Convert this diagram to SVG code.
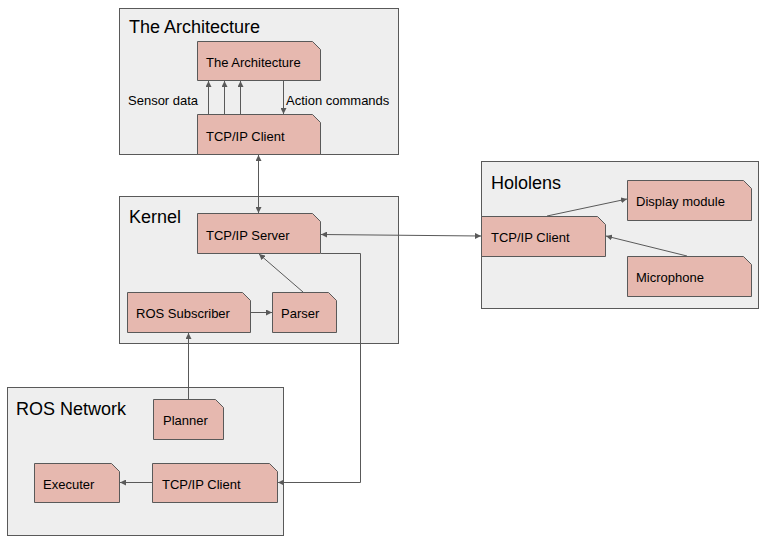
<svg xmlns="http://www.w3.org/2000/svg" width="765" height="540" viewBox="0 0 765 540">
<style>
.cont{fill:#eeeeee;stroke:#595959;stroke-width:1}
.node{fill:#e6b8af;stroke:#595959;stroke-width:1}
.title{font-family:"Liberation Sans",Arial,sans-serif;font-size:18px;fill:#000}
.lbl{font-family:"Liberation Sans",Arial,sans-serif;font-size:13px;fill:#000}
.edge{fill:none;stroke:#595959;stroke-width:1}
</style>
<defs>
<marker id="ah" viewBox="0 0 10 10" refX="10" refY="5" markerWidth="6" markerHeight="6" orient="auto-start-reverse" markerUnits="userSpaceOnUse">
<path d="M0,0 L10,5 L0,10 Z" fill="#595959"/>
</marker>
</defs>
<rect width="765" height="540" fill="#ffffff"/>

<g id="arch-container">
<rect class="cont" x="119.5" y="8.5" width="279" height="146"/>
<text class="title" x="129" y="33">The Architecture</text>
</g>
<g id="kernel-container">
<rect class="cont" x="119.5" y="196.5" width="279" height="147"/>
<text class="title" x="129" y="223">Kernel</text>
</g>
<g id="hololens-container">
<rect class="cont" x="481.5" y="161.5" width="277" height="147"/>
<text class="title" x="491" y="189">Hololens</text>
</g>
<g id="ros-container">
<rect class="cont" x="7.5" y="387.5" width="276" height="148"/>
<text class="title" x="16" y="415">ROS Network</text>
</g>

<g id="arch-node">
<path class="node" d="M197.5,41.5 H312.5 L320.5,49.5 V80.5 H197.5 Z"/>
<text class="lbl" x="206" y="67">The Architecture</text>
</g>
<g id="arch-tcp-client">
<path class="node" d="M197.5,114.5 H312.5 L320.5,122.5 V154.5 H197.5 Z"/>
<text class="lbl" x="206" y="141">TCP/IP Client</text>
</g>
<g id="kernel-tcp-server">
<path class="node" d="M197.5,213.5 H312.5 L320.5,221.5 V253.5 H197.5 Z"/>
<text class="lbl" x="206" y="240">TCP/IP Server</text>
</g>
<g id="ros-subscriber">
<path class="node" d="M127.5,292.5 H242.5 L250.5,300.5 V332.5 H127.5 Z"/>
<text class="lbl" x="136" y="318">ROS Subscriber</text>
</g>
<g id="parser">
<path class="node" d="M272.5,292.5 H328.5 L336.5,300.5 V332.5 H272.5 Z"/>
<text class="lbl" x="281" y="318">Parser</text>
</g>
<g id="hololens-tcp-client">
<path class="node" d="M481.5,216.5 H597.5 L605.5,224.5 V256.5 H481.5 Z"/>
<text class="lbl" x="491" y="242">TCP/IP Client</text>
</g>
<g id="display-module">
<path class="node" d="M627.5,180.5 H743.5 L751.5,188.5 V220.5 H627.5 Z"/>
<text class="lbl" x="636" y="206">Display module</text>
</g>
<g id="microphone">
<path class="node" d="M627.5,256.5 H743.5 L751.5,264.5 V296.5 H627.5 Z"/>
<text class="lbl" x="636" y="282">Microphone</text>
</g>
<g id="planner">
<path class="node" d="M153.5,399.5 H215.5 L223.5,407.5 V439.5 H153.5 Z"/>
<text class="lbl" x="163" y="425">Planner</text>
</g>
<g id="executer">
<path class="node" d="M34.5,463.5 H111.5 L119.5,471.5 V502.5 H34.5 Z"/>
<text class="lbl" x="43" y="489">Executer</text>
</g>
<g id="ros-tcp-client">
<path class="node" d="M152.5,463.5 H269.5 L277.5,471.5 V502.5 H152.5 Z"/>
<text class="lbl" x="162" y="489">TCP/IP Client</text>
</g>

<g id="connectors">
<line class="edge" x1="208.5" y1="114" x2="208.5" y2="81" marker-end="url(#ah)"/>
<line class="edge" x1="224.5" y1="114" x2="224.5" y2="81" marker-end="url(#ah)"/>
<line class="edge" x1="240.5" y1="114" x2="240.5" y2="81" marker-end="url(#ah)"/>
<line class="edge" x1="283.5" y1="81" x2="283.5" y2="114" marker-end="url(#ah)"/>
<text class="lbl" x="128" y="105">Sensor data</text>
<text class="lbl" x="286" y="105">Action commands</text>
<line class="edge" x1="258.5" y1="155" x2="258.5" y2="213" marker-start="url(#ah)" marker-end="url(#ah)"/>
<line class="edge" x1="321" y1="234.5" x2="481" y2="236" marker-start="url(#ah)" marker-end="url(#ah)"/>
<line class="edge" x1="303" y1="292" x2="259" y2="254" marker-end="url(#ah)"/>
<line class="edge" x1="251" y1="312.5" x2="272" y2="312.5" marker-end="url(#ah)"/>
<line class="edge" x1="188.5" y1="399" x2="188.5" y2="333" marker-end="url(#ah)"/>
<path class="edge" d="M321,253.5 H360.5 V482.5 H278" marker-end="url(#ah)"/>
<line class="edge" x1="152" y1="482.5" x2="120" y2="482.5" marker-end="url(#ah)"/>
<line class="edge" x1="547" y1="216" x2="627" y2="199" marker-end="url(#ah)"/>
<line class="edge" x1="687" y1="256" x2="606" y2="236" marker-end="url(#ah)"/>
</g>
</svg>
